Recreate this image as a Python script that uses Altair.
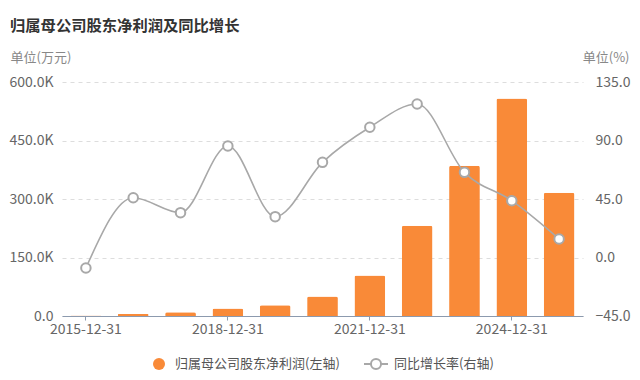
import altair as alt
import pandas as pd

dates = ["2015-12-31", "2016-12-31", "2017-12-31", "2018-12-31", "2019-12-31",
         "2020-12-31", "2021-12-31", "2022-12-31", "2023-12-31", "2024-12-31", "2025-09-30"]
profit = [1500, 5000, 9500, 19500, 27500, 50000, 104000, 231500, 385000, 558000, 316000]
growth = [-8.1, 46.0, 34.5, 85.8, 31.4, 73.2, 100.2, 118.1, 65.5, 43.7, 14.2]
tick_dates = ["2015-12-31", "2018-12-31", "2021-12-31", "2024-12-31"]
left_ticks = [0, 150000, 300000, 450000, 600000]
right_ticks = [-45, 0, 45, 90, 135]
name_bar = "归属母公司股东净利润(左轴)"
name_line = "同比增长率(右轴)"

df = pd.DataFrame({"date": dates, "profit": profit, "growth": growth,
                   "s1": name_bar, "s2": name_line})

FONT = "Noto Sans CJK SC"
ORANGE = "#F98A38"
GRAY = "#A8A8A8"
LABEL = "#666666"

x_enc = alt.X("date:N", sort=None, title=None,
              scale=alt.Scale(paddingInner=0.35, paddingOuter=0.18),
              axis=alt.Axis(values=tick_dates, labelAngle=0, labelFont=FONT, labelFontSize=14,
                            labelColor=LABEL, domainColor="#8C9AAE", tickColor="#8C9AAE",
                            tickSize=4, labelPadding=2, grid=False))

bars = alt.Chart(df).mark_bar(cornerRadiusTopLeft=2, cornerRadiusTopRight=2).encode(
    x=x_enc,
    y=alt.Y("profit:Q", scale=alt.Scale(domain=[0, 600000], nice=False),
            axis=alt.Axis(values=left_ticks, title="单位(万元)", titleAngle=0, titleX=-52, titleY=-25,
                          titleAlign="left", titleBaseline="middle", titleFont=FONT, titleFontSize=13,
                          titleFontWeight="normal", titleColor="#888888",
                          labelExpr="datum.value == 0 ? '0.0' : format(datum.value/1000, '.1f') + 'K'",
                          labelFont=FONT, labelFontSize=14, labelColor=LABEL, labelPadding=9,
                          domain=False, ticks=False, grid=True, gridColor="#DDDDDD",
                          gridDash=[4, 4])),
    color=alt.Color("s1:N", scale=alt.Scale(domain=[name_bar], range=[ORANGE]),
                    legend=alt.Legend(title=None, orient="none", legendX=90, legendY=275,
                                      symbolType="circle", symbolSize=144, padding=0,
                                      labelOffset=9, labelFont=FONT, labelFontSize=13,
                                      labelLimit=400, labelColor="#555555"))
)

y_right = alt.Y("growth:Q", scale=alt.Scale(domain=[-45, 135], nice=False),
                axis=alt.Axis(orient="right", values=right_ticks, format=".1f",
                              title="单位(%)", titleAngle=0, titleX=46, titleY=-25,
                              titleAlign="right", titleBaseline="middle", titleFont=FONT,
                              titleFontSize=13, titleFontWeight="normal", titleColor="#888888",
                              labelFont=FONT, labelFontSize=14, labelColor=LABEL, labelPadding=12,
                              domain=False, ticks=False, grid=False))

legend_path = ("M-1,0L-0.42,0M0.42,0L1,0M-0.42,0A0.42,0.42 0 1,1 0.42,0"
               "A0.42,0.42 0 1,1 -0.42,0Z")

line = alt.Chart(df).mark_line(interpolate="monotone", strokeWidth=1.6).encode(
    x=x_enc,
    y=y_right,
    stroke=alt.Stroke("s2:N", scale=alt.Scale(domain=[name_line], range=[GRAY]),
                      legend=alt.Legend(title=None, orient="none", legendX=301, legendY=269,
                                        symbolType=legend_path, symbolSize=576,
                                        symbolStrokeWidth=2, symbolFillColor="white",
                                        padding=0, labelOffset=5, labelFont=FONT,
                                        labelFontSize=13, labelLimit=400,
                                        labelColor="#555555"))
)

points = alt.Chart(df).mark_point(filled=True, fill="white", stroke=GRAY, strokeWidth=2,
                                  size=90, opacity=1).encode(x=x_enc, y=y_right)

chart = alt.layer(bars, line + points).resolve_scale(y="independent").properties(
    width=521, height=234,
    padding={"left": 54, "top": 74, "right": 49, "bottom": 56},
    autosize=alt.AutoSizeParams(type="none"),
    background="white",
    title=alt.TitleParams("归属母公司股东净利润及同比增长", anchor="start", frame="group",
                          dx=-52, offset=17, font=FONT, fontSize=15.3, fontWeight="bold",
                          color="#333333"),
).configure_view(stroke=None)

chart.save("out.html", embed_options={"renderer": "svg", "actions": False})
